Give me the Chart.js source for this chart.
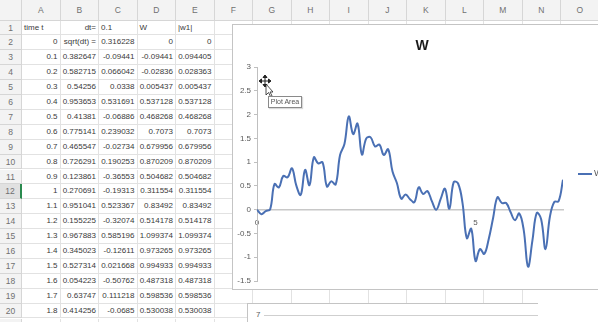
<!DOCTYPE html>
<html>
<head>
<meta charset="utf-8">
<script src="https://cdn.jsdelivr.net/npm/chart.js@4.4.1/dist/chart.umd.min.js"></script>
<style>
  html, body { margin: 0; padding: 0; width: 598px; height: 322px; overflow: hidden; background: #fff;
    font-family: "Liberation Sans", Arial, sans-serif; }
  #sheet { position: absolute; left: 0; top: 0; width: 598px; height: 322px; }
  .c { position: absolute; box-sizing: border-box; border-right: 1px solid #e2e2e2; border-bottom: 1px solid #e2e2e2;
    font-size: 8px; color: #3a3a3a; white-space: nowrap; padding: 0 2px; }
  .r { text-align: right; }
  .l { text-align: left; }
  .h { background: #f3f3f3; color: #707070; text-align: center; border-color: #d6d6d6; font-size: 8.5px; }
  .sel { background: #e1e1e1; border-right: 2px solid #2a8a4e; }
  #chartBox { position: absolute; left: 232px; top: 24px; width: 380px; height: 266px; box-sizing: border-box;
    border: 1px solid #c4c4c4; background: #fff; }
  #wChart { position: absolute; left: 232px; top: 24px; }
  #cover { position: absolute; left: 537px; top: 290px; width: 61px; height: 32px; background: #fff; }
  #nextChart { position: absolute; left: 247px; top: 303px; width: 291px; height: 30px; box-sizing: border-box;
    border-left: 1px solid #c4c4c4; border-top: 1px solid #c4c4c4; background: #fff; }
  #nextChart .lab { position: absolute; left: 8px; top: 6px; font-size: 8px; color: #595959; }
  #nextChart .grid { position: absolute; left: 16px; right: 0; top: 11px; border-top: 1px solid #cfcfcf; }
  #tip { position: absolute; left: 268px; top: 96px; width: 34px; height: 12px; box-sizing: border-box;
    border: 1px solid #8a8a8a; background: #fff; font-size: 7px; color: #555; line-height: 10px; text-align: center;
    box-shadow: 1px 1px 1px rgba(0,0,0,0.15); }
  #cursor { position: absolute; left: 259px; top: 75px; }
</style>
</head>
<body>
<div id="sheet"></div>
<div id="chartBox"></div>
<canvas id="wChart" width="366" height="266"></canvas>
<div id="cover"></div>
<div id="nextChart"><span class="lab">7</span><div class="grid"></div></div>
<svg id="cursor" width="14" height="22" viewBox="0 0 14 22">
  <g stroke="#222" stroke-width="1" fill="#222">
    <line x1="6" y1="1" x2="6" y2="11"/><line x1="1" y1="6" x2="11" y2="6"/>
    <path d="M6 0 L4 2.5 L8 2.5 Z M6 12 L4 9.5 L8 9.5 Z M0 6 L2.5 4 L2.5 8 Z M12 6 L9.5 4 L9.5 8 Z"/>
  </g>
  <path d="M7 9 L7 20 L9.5 17.5 L11.5 21.5 L13 20.8 L11 17 L14 17 Z" fill="#fff" stroke="#222" stroke-width="0.8"/>
</svg>
<div id="tip">Plot Area</div>

<script>
// Time grid (dt = 0.1) and the Brownian path W(t)
const T = [0, 0.1, 0.2, 0.3, 0.4, 0.5, 0.6, 0.7, 0.8, 0.9,
  1, 1.1, 1.2, 1.3, 1.4, 1.5, 1.6, 1.7, 1.8, 1.9,
  2, 2.1, 2.2, 2.3, 2.4, 2.5, 2.6, 2.7, 2.8, 2.9,
  3, 3.1, 3.2, 3.3, 3.4, 3.5, 3.6, 3.7, 3.8, 3.9,
  4, 4.1, 4.2, 4.3, 4.4, 4.5, 4.6, 4.7, 4.8, 4.9,
  5, 5.1, 5.2, 5.3, 5.4, 5.5, 5.6, 5.7, 5.8, 5.9,
  6, 6.1, 6.2, 6.3, 6.4, 6.5, 6.6, 6.7, 6.8, 6.9, 7];

const W = [0, -0.09441, -0.02836, 0.005437, 0.537128, 0.468268, 0.7073, 0.679956, 0.870209, 0.504682,
  0.311554, 0.83492, 0.514178, 1.099374, 0.973265, 0.994933, 0.487318, 0.598536, 0.530038, 1.15,
  1.38, 1.96, 1.59, 1.81, 1.16, 1.50, 1.52, 1.33, 1.37, 1.15,
  1.27, 0.80, 0.56, 0.23, 0.32, 0.22, 0.16, 0.47, 0.33, 0.39,
  0.18, 0.0, 0.22, 0.44, 0.02, 0.58, 0.55, 0.15, -0.60, -0.40,
  -1.08, -0.83, -0.93, -0.62, -0.18, 0.26, 0.14, 0.14, -0.05, -0.22,
  -0.08, -0.42, -1.20, -0.65, -0.07, -0.20, -0.83, -0.15, 0.16, 0.18, 0.63];

// Worksheet columns shown for rows 3..20
const uniformDraw = [0.382647, 0.582715, 0.54256, 0.953653, 0.41381, 0.775141, 0.465547, 0.726291, 0.123861,
  0.270691, 0.951041, 0.155225, 0.967883, 0.345023, 0.527314, 0.054223, 0.63747, 0.414256];
const increment = [-0.09441, 0.066042, 0.0338, 0.531691, -0.06886, 0.239032, -0.02734, 0.190253, -0.36553,
  -0.19313, 0.523367, -0.32074, 0.585196, -0.12611, 0.021668, -0.50762, 0.111218, -0.0685];
const absW = [0, 0.094405, 0.028363, 0.005437, 0.537128, 0.468268, 0.7073, 0.679956, 0.870209, 0.504682,
  0.311554, 0.83492, 0.514178, 1.099374, 0.973265, 0.994933, 0.487318, 0.598536, 0.530038];

const colLetters = ['A','B','C','D','E','F','G','H','I','J','K','L','M','N','O','P'];
const Y_TICK_STEP = 0.5;
const X_TICKS = [0, 5];
const SERIES_NAME = 'W';
const LINE_COLOR = '#4a70b4';

// ---- worksheet grid ----
const sheet = document.getElementById('sheet');
const HEAD_H = 20.5, ROW_H = 14.9, NUM_W = 22, COL_W = 38.5;
function cell(x, y, w, h, text, cls) {
  const d = document.createElement('div');
  d.className = 'c ' + (cls || '');
  d.style.left = x + 'px'; d.style.top = y + 'px';
  d.style.width = w + 'px'; d.style.height = h + 'px';
  d.style.lineHeight = h + 'px';
  d.textContent = text;
  sheet.appendChild(d);
  return d;
}
cell(0, 0, NUM_W, HEAD_H, '', 'h');
colLetters.forEach((L, i) => cell(NUM_W + i * COL_W, 0, COL_W, HEAD_H, L, 'h'));
for (let r = 1; r <= 21; r++) {
  const y = HEAD_H + (r - 1) * ROW_H;
  cell(0, y, NUM_W, ROW_H, String(r), 'h' + (r === 12 ? ' sel' : ''));
  const vals = new Array(colLetters.length).fill(['', 'r']);
  if (r === 1) {
    vals[0] = ['time t', 'l']; vals[1] = ['dt=', 'r']; vals[2] = ['0.1', 'l'];
    vals[3] = ['W', 'l']; vals[4] = ['|w1|', 'l'];
  } else if (r === 2) {
    vals[0] = [String(T[0]), 'r']; vals[1] = ['sqrt(dt) =', 'r']; vals[2] = ['0.316228', 'r'];
    vals[3] = [String(W[0]), 'r']; vals[4] = [String(absW[0]), 'r'];
  } else if (r <= 20) {
    const k = r - 2;
    vals[0] = [String(T[k]), 'r']; vals[1] = [String(uniformDraw[k - 1]), 'r'];
    vals[2] = [String(increment[k - 1]), 'r']; vals[3] = [String(W[k]), 'r'];
    vals[4] = [String(absW[k]), 'r'];
  }
  vals.forEach((v, i) => cell(NUM_W + i * COL_W, y, COL_W, ROW_H, v[0], v[1]));
}

// ---- W(t) chart ----
Chart.defaults.font.family = '"Liberation Sans", Arial, sans-serif';

const chartDecor = {
  id: 'chartDecor',
  afterDraw(chart) {
    const ctx = chart.ctx;
    ctx.save();
    ctx.fillStyle = '#1a1a1a';
    ctx.font = 'bold 14px "Liberation Sans", Arial, sans-serif';
    ctx.textAlign = 'center';
    ctx.textBaseline = 'middle';
    ctx.fillText(SERIES_NAME, 190, 22);
    ctx.strokeStyle = LINE_COLOR;
    ctx.lineWidth = 2;
    ctx.beginPath();
    ctx.moveTo(346, 150);
    ctx.lineTo(360, 150);
    ctx.stroke();
    ctx.fillStyle = '#595959';
    ctx.font = '9px "Liberation Sans", Arial, sans-serif';
    ctx.textAlign = 'left';
    ctx.fillText(SERIES_NAME, 362, 150);
    ctx.restore();
  }
};

// General-style number text: 3, 2.5, -1.5 ...
const plainNumber = v => String(Math.round(v * 100) / 100);

new Chart(document.getElementById('wChart'), {
  type: 'scatter',
  data: {
    datasets: [{
      label: SERIES_NAME,
      data: T.map((t, i) => ({ x: t, y: W[i] })),
      showLine: true,
      borderColor: LINE_COLOR,
      borderWidth: 2,
      pointRadius: 0,
      tension: 0.4,
      fill: false
    }]
  },
  options: {
    responsive: false,
    animation: false,
    events: [],
    layout: { padding: { top: 43, left: 0, right: 35, bottom: 9 } },
    plugins: { legend: { display: false }, title: { display: false }, tooltip: { enabled: false } },
    scales: {
      x: {
        type: 'linear', min: 0, max: 7,
        position: { y: 0 },
        afterBuildTicks: s => { s.ticks = X_TICKS.map(v => ({ value: v })); },
        grid: { display: false, drawTicks: false },
        border: { color: '#c8c8c8', width: 1.5 },
        ticks: { color: '#595959', font: { size: 8 }, padding: 8, maxRotation: 0, autoSkip: false,
          callback: plainNumber }
      },
      y: {
        min: -1.5, max: 3,
        afterFit: s => { s.width = 25; },
        grid: { drawOnChartArea: false, drawTicks: true, tickLength: 3, color: '#bfbfbf' },
        border: { color: '#bfbfbf', width: 1 },
        ticks: { stepSize: Y_TICK_STEP, color: '#595959', font: { size: 8 }, padding: 3,
          callback: plainNumber }
      }
    }
  },
  plugins: [chartDecor]
});
</script>
</body>
</html>
